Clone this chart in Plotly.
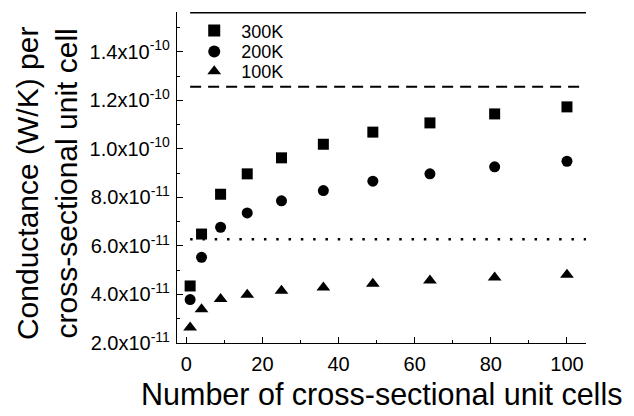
import plotly.graph_objects as go

# ---- data ----
n_cells = [1, 4, 9, 16, 25, 36, 49, 64, 81, 100]
g_300K = [4.35e-11, 6.49e-11, 8.13e-11, 8.97e-11, 9.63e-11, 1.019e-10, 1.069e-10, 1.107e-10, 1.144e-10, 1.173e-10]
g_200K = [3.79e-11, 5.53e-11, 6.77e-11, 7.36e-11, 7.86e-11, 8.28e-11, 8.67e-11, 8.97e-11, 9.26e-11, 9.49e-11]
g_100K = [2.64e-11, 3.39e-11, 3.81e-11, 3.99e-11, 4.15e-11, 4.29e-11, 4.44e-11, 4.58e-11, 4.70e-11, 4.81e-11]

ref_x = [1, 105]
ref_solid = 1.562e-10
ref_dashed = 1.256e-10
ref_dotted = 6.28e-11

y_tickvals = [2e-11, 4e-11, 6e-11, 8e-11, 1.0e-10, 1.2e-10, 1.4e-10]
y_ticktext = ["2.0x10<sup>-11</sup>", "4.0x10<sup>-11</sup>", "6.0x10<sup>-11</sup>",
              "8.0x10<sup>-11</sup>", "1.0x10<sup>-10</sup>", "1.2x10<sup>-10</sup>",
              "1.4x10<sup>-10</sup>"]
x_tickvals = [0, 20, 40, 60, 80, 100]

FONT = "Liberation Sans, Arial, Helvetica, sans-serif"

fig = go.Figure()

for yv, dash, w in [(ref_solid, "solid", 2), (ref_dashed, "11px,7px", 2.2), (ref_dotted, "2.5px,9.8px", 2.5)]:
    fig.add_trace(go.Scatter(x=ref_x, y=[yv, yv], mode="lines", showlegend=False,
                             line=dict(color="black", width=w, dash=dash), hoverinfo="skip"))

fig.add_trace(go.Scatter(x=n_cells, y=g_300K, mode="markers", name="300K", legend="legend",
                         marker=dict(symbol="square", size=11, color="black")))
fig.add_trace(go.Scatter(x=n_cells, y=g_200K, mode="markers", name="200K", legend="legend2",
                         marker=dict(symbol="circle", size=11, color="black")))
fig.add_trace(go.Scatter(x=n_cells, y=g_100K, mode="markers", name="100K", legend="legend3",
                         marker=dict(symbol="triangle-up", size=12, color="black")))

def leg(ypos):
    return dict(x=0.025, y=ypos, xanchor="left", yanchor="middle",
                font=dict(size=18, family=FONT), bgcolor="rgba(0,0,0,0)",
                itemwidth=44, itemsizing="constant")

fig.update_layout(
    width=634, height=416,
    margin=dict(l=177, r=48, t=12, b=73),
    paper_bgcolor="white", plot_bgcolor="white",
    font=dict(family=FONT, color="black"),
    showlegend=True,
    legend=leg(0.943), legend2=leg(0.880), legend3=leg(0.820),
    xaxis=dict(range=[-2.45, 105], showline=True, linecolor="black", linewidth=1.2,
               showgrid=False, zeroline=False, ticks="inside", ticklen=6, tickwidth=1.2,
               tickcolor="black", tickmode="array", tickvals=x_tickvals,
               tickfont=dict(size=20, family=FONT), ticklabelstandoff=3,
               minor=dict(ticks="inside", ticklen=3, tickwidth=1, tickcolor="black",
                          tickmode="linear", tick0=10, dtick=20)),
    yaxis=dict(range=[2e-11, 1.564e-10], showline=True, linecolor="black", linewidth=1.2,
               showgrid=False, zeroline=False, ticks="inside", ticklen=6, tickwidth=1.2,
               tickcolor="black", tickmode="array", tickvals=y_tickvals, ticktext=y_ticktext,
               tickfont=dict(size=20, family=FONT), ticklabelstandoff=2,
               minor=dict(ticks="inside", ticklen=3, tickwidth=1, tickcolor="black",
                          tickmode="linear", tick0=1e-11, dtick=2e-11)),
    annotations=[
        dict(text="Number of cross-sectional unit cells", xref="paper", yref="paper",
             x=0.5, y=-0.154, xanchor="center", yanchor="middle", showarrow=False,
             font=dict(size=30.5, family=FONT)),
        dict(text="Conductance (W/K) per<br>cross-sectional unit cell", xref="paper", yref="paper",
             x=-0.318, y=0.483, xanchor="center", yanchor="middle", showarrow=False,
             textangle=-90, font=dict(size=30, family=FONT)),
    ],
)

fig.write_html("out.html")
